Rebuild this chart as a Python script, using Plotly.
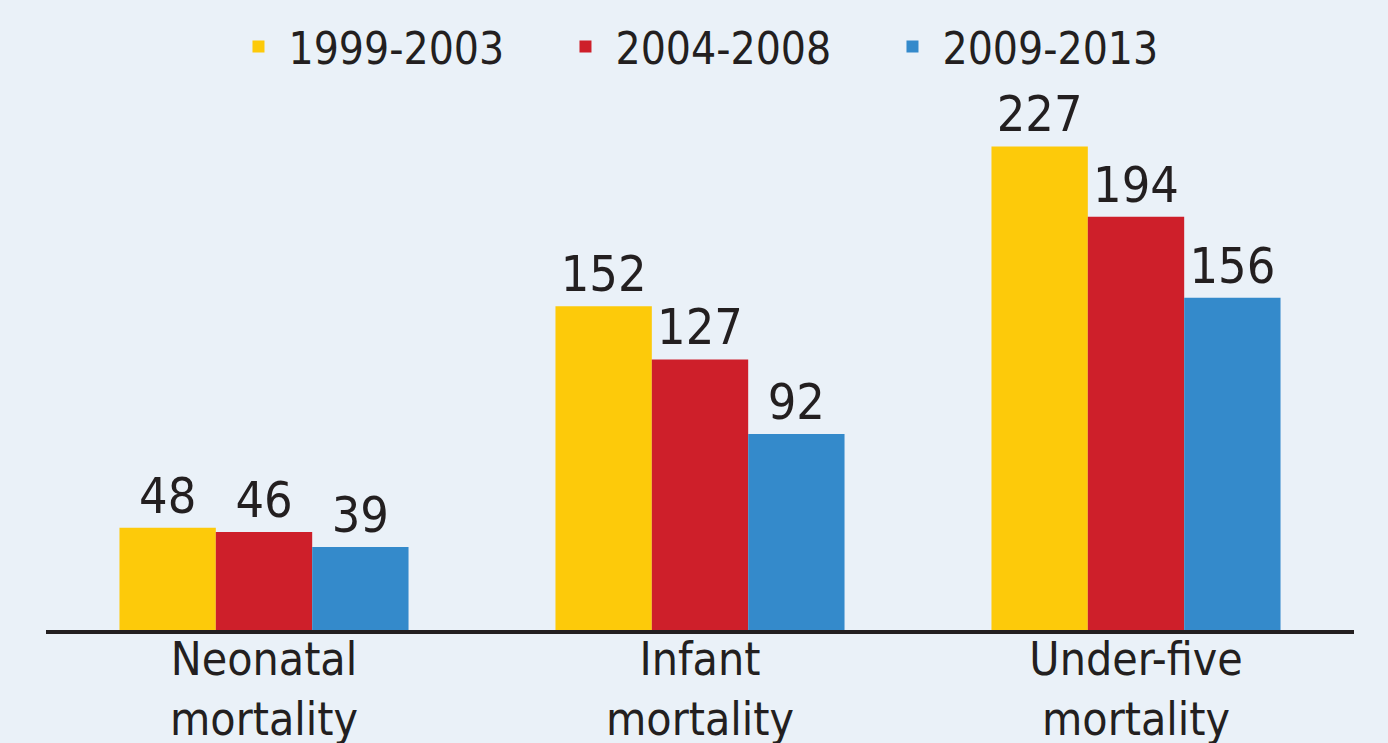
import plotly.graph_objects as go

categories = ['Neonatal<br>mortality', 'Infant<br>mortality', 'Under-five<br>mortality']
periods = ['1999-2003', '2004-2008', '2009-2013']
rates_1999_2003 = [48, 152, 227]
rates_2004_2008 = [46, 127, 194]
rates_2009_2013 = [39, 92, 156]

COLORES = ['#FDCA0A', '#CE1F2A', '#348ACB']
FONT = 'DejaVu Sans Condensed, DejaVu Sans, sans-serif'
TEXT_COLOR = '#231F20'
BG = '#EAF1F8'

fig = go.Figure()

for name, values, color in zip(periods, [rates_1999_2003, rates_2004_2008, rates_2009_2013], COLORES):
    fig.add_trace(go.Bar(
        x=categories,
        y=values,
        name=name,
        marker=dict(color=color, line=dict(width=0)),
        text=values,
        textposition='outside',
        textfont=dict(size=50, color=TEXT_COLOR, family=FONT),
        cliponaxis=False,
    ))

fig.update_layout(
    width=1388,
    height=743,
    margin=dict(l=46, r=34, t=90, b=113, autoexpand=False),
    paper_bgcolor=BG,
    plot_bgcolor=BG,
    barmode='group',
    bargap=0.337,
    bargroupgap=0,
    font=dict(family=FONT, color=TEXT_COLOR),
    showlegend=True,
    legend=dict(
        orientation='h',
        xref='container', yref='container',
        x=0.518, xanchor='center',
        y=1 - 47 / 743, yanchor='middle',
        font=dict(size=44, color=TEXT_COLOR, family=FONT),
        bgcolor='rgba(0,0,0,0)',
        itemwidth=50,
        entrywidth=262,
        entrywidthmode='pixels',
    ),
    xaxis=dict(
        showline=True, linewidth=4, linecolor=TEXT_COLOR,
        showgrid=False, ticks='', automargin=False,
        ticklabelstandoff=-14,
        tickfont=dict(size=46, color=TEXT_COLOR, family=FONT),
    ),
    yaxis=dict(
        range=[0, 253.5],
        showgrid=False, zeroline=False, automargin=False,
        showticklabels=False, showline=False,
    ),
)

fig.write_html("out.html", config={'displayModeBar': False},
               post_script="document.body.style.margin='0';")
